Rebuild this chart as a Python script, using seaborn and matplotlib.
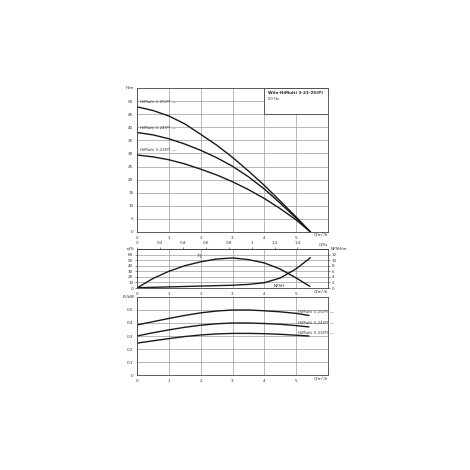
import numpy as np
import pandas as pd
import matplotlib
matplotlib.use("Agg")
import matplotlib.pyplot as plt
import seaborn as sns
from matplotlib.patches import Rectangle
from matplotlib.ticker import FuncFormatter

# flow points (m³/h)
q = [0, 0.5, 1, 1.5, 2, 2.5, 3, 3.5, 4, 4.5, 5, 5.45]
pump_names = ["HiMulti 3-25(P)", "HiMulti 3-24(P)", "HiMulti 3-23(P)"]

# head curves H/m
head_25 = [47.8, 46.4, 44.3, 41.3, 37.3, 33.2, 28.5, 23.3, 17.8, 11.8, 5.7, 0]
head_24 = [38.0, 37.1, 35.6, 33.6, 31.2, 28.4, 25.1, 21.1, 16.4, 11.0, 5.3, 0]
head_23 = [29.4, 28.7, 27.6, 26.0, 24.0, 21.8, 19.2, 16.2, 12.8, 8.9, 4.6, 0]

# efficiency and NPSH
q_eta = [0, 0.5, 1, 1.5, 2, 2.5, 3, 3.5, 4, 4.5, 5, 5.43]
eta = [0, 17, 30, 40, 47, 52, 54, 51, 45, 34, 18, 3]
q_npsh = [0, 1, 2, 3, 3.5, 4, 4.5, 5, 5.45]
npsh = [0.1, 0.4, 0.7, 1.0, 1.3, 1.9, 3.6, 6.9, 10.9]

# power P1/kW
q_p = [0, 0.5, 1, 1.5, 2, 2.5, 3, 3.5, 4, 4.5, 5, 5.4]
power_25 = [0.385, 0.41, 0.435, 0.458, 0.478, 0.492, 0.50, 0.50, 0.494, 0.486, 0.474, 0.458]
power_24 = [0.30, 0.325, 0.347, 0.367, 0.383, 0.394, 0.40, 0.40, 0.396, 0.39, 0.38, 0.37]
power_23 = [0.245, 0.263, 0.28, 0.296, 0.308, 0.316, 0.32, 0.32, 0.318, 0.313, 0.306, 0.30]

title = "Wilo-HiMulti 3-23-25(P)"
subtitle = "50 Hz"

sns.set_style("white")
plt.rcParams["font.family"] = ["DejaVu Sans"]

fs = 3.0
lc = "#1a1a1a"
gc = "#9a9a9a"
tc = "#333333"
fmt = FuncFormatter(lambda v, p: "{:g}".format(round(v, 3)))

fig = plt.figure(figsize=(4.7, 4.7), dpi=100)
ax1 = fig.add_axes([0.2915, 0.5064, 0.4064, 0.3064])
ax2 = fig.add_axes([0.2915, 0.3872, 0.4064, 0.083])
ax3 = fig.add_axes([0.2915, 0.2021, 0.4064, 0.166])


def style(ax, yticks):
    ax.set_xlim(0, 6)
    ax.set_xticks([0, 1, 2, 3, 4, 5])
    ax.set_yticks(yticks)
    ax.yaxis.set_major_formatter(fmt)
    ax.grid(True, color=gc, lw=0.5)
    ax.tick_params(labelsize=fs, length=1.2, width=0.4, pad=1.5, colors=tc)
    for s in ax.spines.values():
        s.set_color("#444444")
        s.set_linewidth(0.6)
    ax.set_xlabel("")
    ax.set_ylabel("")
    ax.text(1.0, -0.004 / ax.get_position().height, "Q/m³/h", transform=ax.transAxes,
            ha="right", va="top", fontsize=fs, color=tc)


# --- head panel
heads = [head_25, head_24, head_23]
for name, h in zip(pump_names, heads):
    sns.lineplot(x=q, y=h, ax=ax1, color=lc, lw=1.0)
    ax1.text(0.1, h[0] + 1.1, name + " —", fontsize=fs, color=tc, va="bottom")
ax1.set_ylim(0, 55)
style(ax1, np.arange(0, 51, 5))
ax1.text(-0.015, 1.0, "H/m", transform=ax1.transAxes, ha="right", va="center", fontsize=fs)
ax1.add_patch(Rectangle((4, 45), 2, 10, facecolor="white", edgecolor="#444444", lw=0.6, zorder=3))
ax1.text(4.1, 54, title, fontsize=fs, va="top", zorder=4, fontweight="bold")
ax1.text(4.1, 51.6, subtitle, fontsize=fs * 0.9, va="top", zorder=4)

# --- efficiency / NPSH panel
sns.lineplot(x=q_eta, y=eta, ax=ax2, color=lc, lw=1.0)
ax2.set_ylim(0, 70)
style(ax2, np.arange(0, 61, 10))
ax2.text(-0.015, 1.0, "η/%", transform=ax2.transAxes, ha="right", va="center", fontsize=fs)
ax2.text(1.9, 54, "η", fontsize=fs + 0.5, va="bottom")

tw = ax2.twinx()
sns.lineplot(x=q_npsh, y=npsh, ax=tw, color=lc, lw=1.0)
tw.set_ylim(0, 14)
tw.set_yticks(np.arange(0, 13, 2))
tw.set_ylabel("")
tw.grid(False)
tw.tick_params(labelsize=fs, length=1.2, width=0.4, pad=1.5, colors=tc)
for s in tw.spines.values():
    s.set_visible(False)
tw.text(1.015, 1.0, "NPSH/m", transform=tw.transAxes, ha="left", va="center", fontsize=fs)
tw.text(4.3, 1.5, "NPSH", fontsize=fs, va="top")

sec = ax2.secondary_xaxis("top", functions=(lambda x: x / 3.6, lambda x: x * 3.6))
sec.set_xticks([0, 0.2, 0.4, 0.6, 0.8, 1.0, 1.2, 1.4])
sec.xaxis.set_major_formatter(fmt)
sec.tick_params(labelsize=fs, length=1.2, width=0.4, pad=1.5, colors=tc)
sec.spines["top"].set_linewidth(0.6)
ax2.text(1.0, 1.06, "Q/l/s", transform=ax2.transAxes, ha="right", va="bottom", fontsize=fs, color=tc)

# --- power panel
powers = [power_25, power_24, power_23]
offs = [0.487, 0.40, 0.322]
for name, p, yo in zip(pump_names, powers, offs):
    sns.lineplot(x=q_p, y=p, ax=ax3, color=lc, lw=1.0)
    ax3.text(5.05, yo, name + " —", fontsize=fs, va="center", color=tc)
ax3.set_ylim(0, 0.6)
style(ax3, [0, 0.1, 0.2, 0.3, 0.4, 0.5])
ax3.text(-0.015, 1.0, "P₁/kW", transform=ax3.transAxes, ha="right", va="center", fontsize=fs)

fig.savefig("out.png", dpi=100, facecolor="white")
